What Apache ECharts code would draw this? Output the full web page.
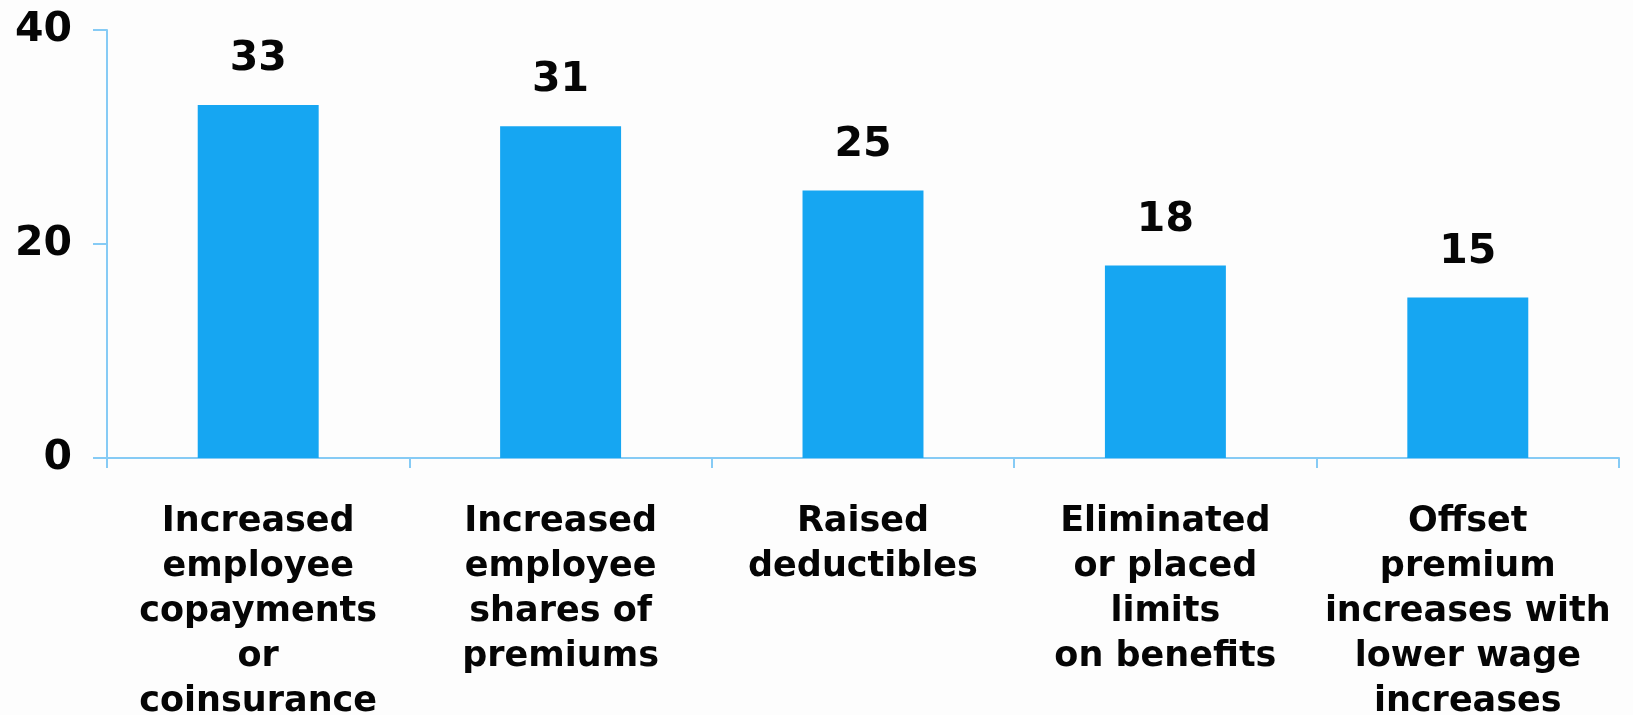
<!DOCTYPE html>
<html>
<head>
<meta charset="utf-8">
<script src="https://cdn.jsdelivr.net/npm/echarts@6/dist/echarts.min.js"></script>
<style>
  html, body { margin: 0; padding: 0; background: #fdfdfd; }
  #chart { width: 1633px; height: 715px; }
</style>
</head>
<body>
<div id="chart"></div>
<script>
// Cost-shifting actions taken by employers (% of firms)
const categories = [
  'Increased\nemployee\ncopayments\nor\ncoinsurance',
  'Increased\nemployee\nshares of\npremiums',
  'Raised\ndeductibles',
  'Eliminated\nor placed\nlimits\non benefits',
  'Offset\npremium\nincreases with\nlower wage\nincreases'
];
const values = [33, 31, 25, 18, 15];
const yTicks = { min: 0, max: 40, interval: 20 };

const FONT = '"DejaVu Sans", sans-serif';
const AXIS_COLOR = '#86cbf5';
const BAR_COLOR = '#16a6f2';
const TEXT_COLOR = '#050505';

const chart = echarts.init(document.getElementById('chart'));
chart.setOption({
  backgroundColor: '#fdfdfd',
  animation: false,
  grid: {
    left: 107, right: 14, top: 30, bottom: 257,
    containLabel: false,
    outerBoundsMode: 'none'
  },
  xAxis: {
    type: 'category',
    data: categories,
    boundaryGap: true,
    axisLine: { show: true, lineStyle: { color: AXIS_COLOR, width: 2 } },
    axisTick: { show: true, length: 10, lineStyle: { color: AXIS_COLOR, width: 2 } },
    axisLabel: {
      interval: 0,
      margin: 41,
      color: TEXT_COLOR,
      fontFamily: FONT,
      fontWeight: 'bold',
      fontSize: 35,
      lineHeight: 45,
      align: 'center'
    },
    splitLine: { show: false }
  },
  yAxis: {
    type: 'value',
    min: yTicks.min,
    max: yTicks.max,
    interval: yTicks.interval,
    axisLine: { show: true, lineStyle: { color: AXIS_COLOR, width: 2 } },
    axisTick: { show: true, length: 14, lineStyle: { color: AXIS_COLOR, width: 2 } },
    axisLabel: {
      margin: 35,
      color: TEXT_COLOR,
      fontFamily: FONT,
      fontWeight: 'bold',
      fontSize: 41
    },
    splitLine: { show: false }
  },
  series: [{
    type: 'bar',
    data: values,
    barWidth: '40%',
    itemStyle: { color: BAR_COLOR },
    label: {
      show: true,
      position: 'top',
      distance: 25,
      color: TEXT_COLOR,
      fontFamily: FONT,
      fontWeight: 'bold',
      fontSize: 41
    }
  }]
});
</script>
</body>
</html>
